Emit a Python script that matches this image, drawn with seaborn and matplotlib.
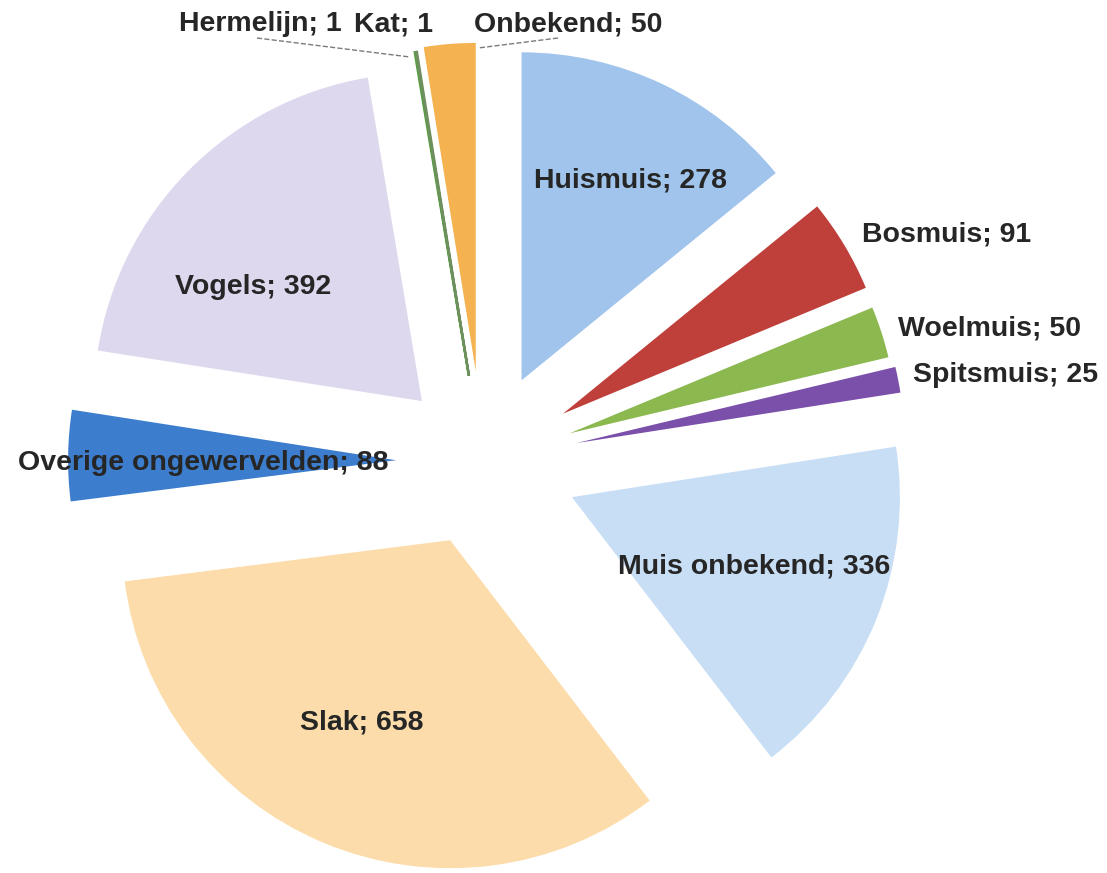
import matplotlib
matplotlib.use("Agg")
import matplotlib.pyplot as plt
import seaborn as sns

# Data
categories = ['Huismuis', 'Bosmuis', 'Woelmuis', 'Spitsmuis', 'Muis onbekend', 'Slak',
              'Overige ongewervelden', 'Vogels', 'Hermelijn', 'Kat', 'Onbekend']
counts = [278, 91, 50, 25, 336, 658, 88, 392, 1, 1, 50]
colors = ['#a0c4ec', '#bf3f3a', '#8cb850', '#7a50aa', '#c8def5', '#fcdcaa',
          '#3c7dcd', '#ded8ee', '#55a040', '#6f8f5f', '#f5b250']
explode = [0.274, 0.284, 0.277, 0.29, 0.292, 0.26, 0.265, 0.262, 0.265, 0.265, 0.277]

# label positions in pixels of the 1107x873 canvas
label_px = [(631, 180), (947, 235), (990, 328), (1006, 375), (754, 567), (362, 723),
            (203, 463), (253, 287), (260, 24), (394, 24), (568, 24)]

sns.set_theme(style='white')
plt.rcParams['font.family'] = ['Liberation Sans', 'DejaVu Sans']

W, H = 1107, 873
CX, CY, R = 483, 461.5, 328


def to_data(x, y):
    return (x - CX) / R, (CY - y) / R


fig = plt.figure(figsize=(W / 100, H / 100), dpi=100)
ax = fig.add_axes([0, 0, 1, 1])
wedges, _ = ax.pie(counts, colors=colors, explode=explode, startangle=90,
                   counterclock=False, radius=1, wedgeprops=dict(linewidth=0))

# the two 1-count slices are hair thin, give them an outline so they show
for w in wedges[8:10]:
    w.set_edgecolor(w.get_facecolor())
    w.set_linewidth(1.6)

for name, n, (px, py) in zip(categories, counts, label_px):
    x, y = to_data(px, py)
    ax.text(x, y, f'{name}; {n}', ha='center', va='center', fontsize=20.5,
            fontweight='bold', color='#262626')

# dashed leader lines for the tiny slices on top
lines = [((257, 38), (410, 57)), ((558, 38), (478, 48))]
for (x0, y0), (x1, y1) in lines:
    a = to_data(x0, y0)
    b = to_data(x1, y1)
    ax.plot([a[0], b[0]], [a[1], b[1]], ls='--', lw=1.0, color='#7a7a7a')

ax.set_xlim(-CX / R, (W - CX) / R)
ax.set_ylim(-(H - CY) / R, CY / R)
ax.set_aspect('equal')
ax.axis('off')

fig.savefig('out.png', dpi=100, facecolor='white')
